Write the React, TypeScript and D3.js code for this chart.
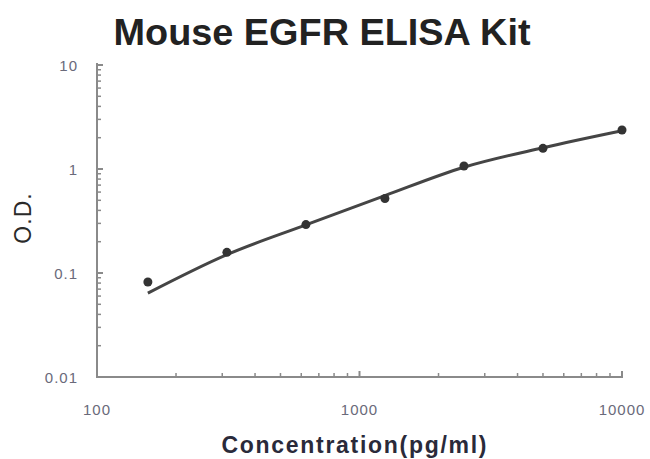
import React from "react";
import * as d3 from "d3";

const concentrations = [156.25, 312.5, 625, 1250, 2500, 5000, 10000];
const odValues = [0.082, 0.158, 0.292, 0.52, 1.07, 1.58, 2.37];
const fitValues = [0.064, 0.15, 0.29, 0.555, 1.04, 1.6, 2.33];
const xTicks = [100, 1000, 10000];
const xTickLabels = ["100", "1000", "10000"];
const yTicks = [0.01, 0.1, 1, 10];
const yTickLabels = ["0.01", "0.1", "1", "10"];

const W = 650;
const H = 459;

export default function App() {
  const x = d3.scaleLog().domain([100, 10000]).range([97, 622]);
  const y = d3.scaleLog().domain([0.01, 10]).range([377, 65]);

  const minorX: number[] = [];
  [100, 1000].forEach((d) => {
    for (let k = 2; k <= 9; k++) minorX.push(d * k);
  });
  const minorY: number[] = [];
  [0.01, 0.1, 1].forEach((d) => {
    for (let k = 2; k <= 9; k++) minorY.push(d * k);
  });

  const line = d3
    .line<number>()
    .x((_, i) => x(concentrations[i]))
    .y((d) => y(d))
    .curve(d3.curveMonotoneX);

  const axisColor = "#8a8a8a";
  const labelColor = "#6a6a7a";

  return (
    <svg
      width={W}
      height={H}
      style={{ position: "absolute", left: 0, top: 0, background: "#fff" }}
      fontFamily="'Liberation Sans', Arial, sans-serif"
    >
      <text
        x={322}
        y={45}
        textAnchor="middle"
        fontSize={36}
        fontWeight="bold"
        fill="#222"
        textLength={417}
        lengthAdjust="spacingAndGlyphs"
      >
        Mouse EGFR ELISA Kit
      </text>

      {/* axes */}
      <line x1={97} y1={63} x2={97} y2={378} stroke={axisColor} strokeWidth={2} />
      <line x1={96} y1={377} x2={623} y2={377} stroke={axisColor} strokeWidth={2} />

      {yTicks.map((t) => (
        <line key={"yt" + t} x1={97} x2={103} y1={y(t)} y2={y(t)} stroke={axisColor} strokeWidth={2} />
      ))}
      {minorY.map((t) => (
        <line key={"ym" + t} x1={97} x2={101} y1={y(t)} y2={y(t)} stroke={axisColor} strokeWidth={1.5} />
      ))}
      {xTicks.map((t) => (
        <line key={"xt" + t} x1={x(t)} x2={x(t)} y1={377} y2={371} stroke={axisColor} strokeWidth={2} />
      ))}
      {minorX.map((t) => (
        <line key={"xm" + t} x1={x(t)} x2={x(t)} y1={377} y2={373} stroke={axisColor} strokeWidth={1.5} />
      ))}

      {yTicks.map((t, i) => (
        <text
          key={"yl" + t}
          x={78}
          y={y(t) + 6}
          textAnchor="end"
          fontSize={15}
          fill={labelColor}
          letterSpacing={1}
        >
          {yTickLabels[i]}
        </text>
      ))}
      {xTicks.map((t, i) => (
        <text
          key={"xl" + t}
          x={x(t)}
          y={415}
          textAnchor="middle"
          fontSize={15}
          fill={labelColor}
          letterSpacing={1}
        >
          {xTickLabels[i]}
        </text>
      ))}

      {/* axis titles */}
      <text
        x={354}
        y={453}
        textAnchor="middle"
        fontSize={23}
        fontWeight="bold"
        fill="#2a2a3a"
        textLength={265}
        lengthAdjust="spacing"
      >
        Concentration(pg/ml)
      </text>
      <text
        transform="translate(31,218) rotate(-90)"
        textAnchor="middle"
        fontSize={23}
        fill="#2a2a2a"
        letterSpacing={1}
      >
        O.D.
      </text>

      {/* fit curve */}
      <path d={line(fitValues) || ""} fill="none" stroke="#454545" strokeWidth={3} />

      {/* points */}
      {odValues.map((v, i) => (
        <circle key={"p" + i} cx={x(concentrations[i])} cy={y(v)} r={4.5} fill="#333" />
      ))}
    </svg>
  );
}
